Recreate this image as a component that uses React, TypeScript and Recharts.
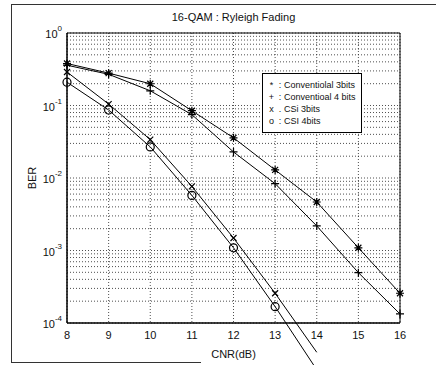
import React from 'react';
import { LineChart, Line, XAxis, YAxis, CartesianGrid, ReferenceArea, Legend } from 'recharts';

// CNR (dB) values along the x axis
const cnr = [8, 9, 10, 11, 12, 13, 14, 15, 16];

// BER
const conv3bits = [0.38, 0.28, 0.2, 0.085, 0.036, 0.013, 0.0047, 0.0011, 0.00026];
const conv4bits = [0.36, 0.27, 0.16, 0.075, 0.023, 0.0084, 0.0022, 0.0005, 0.000135];
// CSI curves stop at 14 dB (they run below the 1e-4 axis)
const csi3bits = [0.29, 0.105, 0.034, 0.0077, 0.0015, 0.00026, 0.00004];
const csi4bits = [0.21, 0.087, 0.027, 0.0058, 0.0011, 0.00017, 0.000023];

const xTicks = [8, 9, 10, 11, 12, 13, 14, 15, 16];
const decades = [1e-4, 1e-3, 1e-2, 1e-1];
const BER_MIN = 1e-4;

// full log grid: 1..9 inside every decade
const yTicks: number[] = [];
decades.forEach((d) => {
  for (let m = 1; m < 10; m++) yTicks.push(d * m);
});
yTicks.push(1);

const legendItems = [
  { sym: '*', sep: ':', label: 'Conventiolal 3bits' },
  { sym: '+', sep: ':', label: 'Conventioal 4 bits' },
  { sym: 'x', sep: '.', label: 'CSi 3bits' },
  { sym: 'o', sep: ':', label: 'CSI 4bits' },
];

const data = cnr.map((c, i) => ({
  cnr: c,
  conv3: conv3bits[i],
  conv4: conv4bits[i],
  csi3: csi3bits[i] ?? null,
  csi4: csi4bits[i] ?? null,
}));

const FONT = '"Liberation Sans", Arial, Helvetica, sans-serif';
const INK = '#111';

// y tick: only label the decades, as 10^n
const YTick = ({ x, y, payload }: any) => {
  const lg = Math.log10(payload.value);
  const e = Math.round(lg);
  if (Math.abs(lg - e) > 1e-6) return <g />;
  return (
    <text x={x} y={y} textAnchor="end" fontSize={11} fill={INK} fontFamily={FONT}>
      <tspan dy={5}>10</tspan>
      <tspan dy={-7} fontSize={8}>{e}</tspan>
    </text>
  );
};

// MATLAB-ish markers, none for points off the bottom of the axes
const makeDot = (kind: string) => (props: any) => {
  const { cx, cy, index, value } = props;
  if (cx == null || cy == null || value == null || value < BER_MIN) return <g key={`${kind}-${index}`} />;
  const s = 4;
  const st = { stroke: '#000', strokeWidth: 1.2, fill: 'none' };
  if (kind === 'o') return <circle key={`${kind}-${index}`} cx={cx} cy={cy} r={s} {...st} />;
  const plus = `M${cx - s},${cy}L${cx + s},${cy}M${cx},${cy - s}L${cx},${cy + s}`;
  const cross = `M${cx - s + 1},${cy - s + 1}L${cx + s - 1},${cy + s - 1}M${cx - s + 1},${cy + s - 1}L${cx + s - 1},${cy - s + 1}`;
  let d = plus;
  if (kind === 'x') d = cross;
  if (kind === '*') d = plus + cross;
  return <path key={`${kind}-${index}`} d={d} {...st} />;
};

const LegendBox = () => (
  <div
    style={{
      border: '1px solid #000',
      background: '#fff',
      boxSizing: 'border-box',
      width: 100,
      height: 60,
      padding: '5px 4px',
      fontFamily: FONT,
      fontSize: 9,
      lineHeight: '12px',
      color: INK,
    }}
  >
    {legendItems.map((it) => (
      <div key={it.label} style={{ whiteSpace: 'nowrap' }}>
        <span style={{ display: 'inline-block', width: 9, textAlign: 'center' }}>{it.sym}</span>
        <span style={{ display: 'inline-block', width: 8, textAlign: 'center' }}>{it.sep}</span>
        {it.label}
      </div>
    ))}
  </div>
);

export default function App() {
  return (
    <div
      style={{
        position: 'absolute',
        left: 0,
        top: 0,
        width: 440,
        height: 365,
        overflow: 'hidden',
        background: '#fff',
        fontFamily: FONT,
      }}
    >
      {/* scanned figure frame */}
      <div
        style={{
          position: 'absolute',
          left: 11,
          top: 4,
          width: 424,
          height: 358,
          borderTop: '1px solid #333',
          borderLeft: '1px solid #333',
        }}
      />
      <div style={{ position: 'absolute', left: 11, top: 362, width: 190, height: 1, background: '#333' }} />

      <div
        style={{
          position: 'absolute',
          left: 67,
          width: 333,
          top: 11,
          textAlign: 'center',
          fontSize: 11,
          color: INK,
        }}
      >
        16-QAM : Ryleigh Fading
      </div>

      {/* axes + grid */}
      <div style={{ position: 'absolute', left: 0, top: 0 }}>
        <LineChart width={440} height={365} data={data} margin={{ top: 33, right: 40, bottom: 0, left: 0 }}>
          <CartesianGrid stroke="#222" strokeDasharray="1 2" strokeWidth={0.8} />
          <XAxis
            dataKey="cnr"
            type="number"
            domain={[8, 16]}
            ticks={xTicks}
            height={42}
            tickLine={false}
            tickSize={0}
            tickMargin={8}
            axisLine={{ stroke: '#000' }}
            tick={{ fontSize: 11, fill: INK, fontFamily: FONT }}
            label={{ value: 'CNR(dB)', position: 'insideBottom', offset: 7, fontSize: 11, fill: INK, fontFamily: FONT }}
          />
          <YAxis
            type="number"
            scale="log"
            domain={[1e-4, 1]}
            allowDataOverflow
            ticks={yTicks}
            interval={0}
            width={67}
            tickLine={false}
            tickSize={0}
            tickMargin={5}
            axisLine={{ stroke: '#000' }}
            tick={<YTick />}
            label={{ value: 'BER', angle: -90, position: 'center', dx: -1, fontSize: 11, fill: INK, fontFamily: FONT }}
          />
          <ReferenceArea x1={8} x2={16} y1={1e-4} y2={1} fill="none" fillOpacity={0} stroke="#000" strokeOpacity={1} />
        </LineChart>
      </div>

      {/* curves: taller plot so the CSI lines can run below 1e-4 like the original */}
      <div style={{ position: 'absolute', left: 0, top: 0 }}>
        <LineChart width={440} height={438} data={data} margin={{ top: 33, right: 40, bottom: 42, left: 67 }}>
          <XAxis dataKey="cnr" type="number" domain={[8, 16]} ticks={xTicks} hide />
          <YAxis type="number" scale="log" domain={[1e-5, 1]} ticks={[1e-5, 1]} hide />
          <Line dataKey="conv3" stroke="#000" strokeWidth={1} dot={makeDot('*')} isAnimationActive={false} />
          <Line dataKey="conv4" stroke="#000" strokeWidth={1} dot={makeDot('+')} isAnimationActive={false} />
          <Line dataKey="csi3" stroke="#000" strokeWidth={1} dot={makeDot('x')} isAnimationActive={false} />
          <Line dataKey="csi4" stroke="#000" strokeWidth={1} dot={makeDot('o')} isAnimationActive={false} />
          <Legend
            content={<LegendBox />}
            layout="horizontal"
            align="center"
            verticalAlign="middle"
            wrapperStyle={{ left: 262, top: 73, width: 100 }}
          />
        </LineChart>
      </div>
    </div>
  );
}
